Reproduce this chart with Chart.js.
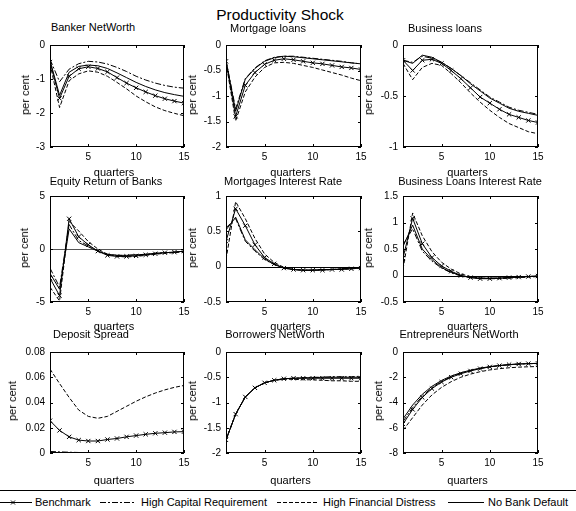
<!DOCTYPE html>
<html>
<head>
<meta charset="utf-8">
<script src="https://cdn.jsdelivr.net/npm/chart.js@4.4.1/dist/chart.umd.min.js"></script>
<style>
body { margin: 0; background: #fff; }
#fig { position: relative; width: 576px; height: 511px; overflow: hidden; font-family: "Liberation Sans", Arial, sans-serif; color: #000; }
#fig canvas { position: absolute; }
.lbl { position: absolute; white-space: nowrap; font-size: 11px; line-height: 12px; transform: translate(-50%, -50%); }
.ylab { position: absolute; white-space: nowrap; font-size: 11px; line-height: 12px; transform: translate(-50%, -50%) rotate(-90deg); }
#suptitle { font-size: 15.5px; line-height: 18px; font-weight: normal; }
#legend { position: absolute; left: -2px; top: 490px; width: 580px; height: 30px; border-top: 1px solid #000; }
.legtxt { position: absolute; top: 496px; font-size: 11px; line-height: 12px; white-space: nowrap; }
</style>
</head>
<body>
<div id="fig">
  <div id="legend"></div>
  <svg width="576" height="511" style="position:absolute;left:0;top:0">
    <g stroke="#000" stroke-width="1" fill="none">
      <line x1="0" y1="502.5" x2="32" y2="502.5"/>
      <path d="M11 500.5 L15 504.5 M15 500.5 L11 504.5"/>
      <line x1="100" y1="502.5" x2="136" y2="502.5" stroke-dasharray="6,2,2,2"/>
      <line x1="277" y1="502.5" x2="319" y2="502.5" stroke-dasharray="4,2"/>
      <line x1="448" y1="502.5" x2="484" y2="502.5"/>
    </g>
  </svg>
  <div class="legtxt" style="left:35px">Benchmark</div>
  <div class="legtxt" style="left:141px">High Capital Requirement</div>
  <div class="legtxt" style="left:323px">High Financial Distress</div>
  <div class="legtxt" style="left:488px">No Bank Default</div>
  <div id="suptitle" class="lbl" style="left:280px;top:15px">Productivity Shock</div>
</div>
<script>
const quarters = [1, 2, 3, 4, 5, 6, 7, 8, 9, 10, 11, 12, 13, 14, 15];
const xTicks = [5, 10, 15];
const seriesNames = ['Benchmark', 'High Capital Requirement', 'High Financial Distress', 'No Bank Default'];

// Banker NetWorth
const bankerBench = [-0.50, -1.57, -0.92, -0.70, -0.64, -0.69, -0.79, -0.96, -1.12, -1.26, -1.38, -1.49, -1.58, -1.65, -1.71];
const bankerCap = [-0.42, -1.08, -0.71, -0.55, -0.48, -0.50, -0.56, -0.66, -0.78, -0.92, -1.03, -1.12, -1.19, -1.24, -1.27];
const bankerDist = [-0.55, -1.84, -1.05, -0.85, -0.76, -0.80, -0.92, -1.10, -1.29, -1.50, -1.67, -1.82, -1.93, -2.01, -2.08];
const bankerNoDef = [-0.45, -1.48, -0.80, -0.63, -0.59, -0.61, -0.69, -0.82, -0.96, -1.10, -1.22, -1.32, -1.40, -1.46, -1.51];
const bankerTicks = [-3, -2, -1, 0];

// Mortgage loans
const mortBench = [-0.32, -1.40, -0.79, -0.54, -0.38, -0.30, -0.27, -0.29, -0.32, -0.35, -0.37, -0.40, -0.43, -0.45, -0.48];
const mortCap = [-0.30, -1.25, -0.66, -0.45, -0.31, -0.24, -0.22, -0.22, -0.24, -0.26, -0.28, -0.30, -0.32, -0.35, -0.37];
const mortDist = [-0.34, -1.49, -0.92, -0.63, -0.44, -0.35, -0.34, -0.36, -0.40, -0.44, -0.49, -0.54, -0.59, -0.65, -0.70];
const mortNoDef = [-0.30, -1.30, -0.67, -0.46, -0.32, -0.25, -0.22, -0.23, -0.25, -0.27, -0.29, -0.31, -0.33, -0.35, -0.37];
const mortTicks = [-2, -1.5, -1, -0.5, 0];

// Business loans
const busBench = [-0.15, -0.25, -0.15, -0.14, -0.18, -0.25, -0.33, -0.42, -0.51, -0.57, -0.63, -0.68, -0.71, -0.74, -0.76];
const busCap = [-0.15, -0.17, -0.11, -0.13, -0.17, -0.23, -0.30, -0.37, -0.44, -0.51, -0.56, -0.61, -0.64, -0.66, -0.68];
const busDist = [-0.18, -0.34, -0.22, -0.18, -0.20, -0.28, -0.37, -0.47, -0.56, -0.64, -0.71, -0.77, -0.81, -0.85, -0.87];
const busNoDef = [-0.15, -0.18, -0.10, -0.12, -0.17, -0.23, -0.30, -0.38, -0.45, -0.52, -0.57, -0.62, -0.65, -0.67, -0.69];
const busTicks = [-1, -0.5, 0];

// Equity Return of Banks
const eqBench = [-2.75, -4.4, 2.85, 1.15, 0.4, -0.2, -0.6, -0.7, -0.7, -0.65, -0.55, -0.45, -0.35, -0.3, -0.2];
const eqCap = [-1.8, -3.6, 2.3, 0.8, 0.3, -0.2, -0.5, -0.6, -0.6, -0.55, -0.5, -0.4, -0.35, -0.3, -0.2];
const eqDist = [-3.6, -4.9, 2.6, 1.7, 0.7, 0.0, -0.5, -0.7, -0.75, -0.7, -0.6, -0.5, -0.4, -0.35, -0.25];
const eqNoDef = [-2.3, -3.8, 1.9, 0.6, 0.2, -0.2, -0.5, -0.6, -0.6, -0.55, -0.5, -0.4, -0.35, -0.3, -0.2];
const eqTicks = [-5, 0, 5];

// Mortgages Interest Rate
const mirBench = [0.36, 0.82, 0.58, 0.31, 0.13, 0.04, -0.02, -0.04, -0.05, -0.05, -0.05, -0.04, -0.04, -0.03, -0.02];
const mirCap = [0.55, 0.68, 0.36, 0.22, 0.10, 0.03, -0.02, -0.04, -0.05, -0.05, -0.04, -0.04, -0.03, -0.02, -0.01];
const mirDist = [0.10, 0.92, 0.68, 0.40, 0.18, 0.06, -0.01, -0.04, -0.05, -0.05, -0.05, -0.04, -0.04, -0.03, -0.02];
const mirNoDef = [0.52, 0.70, 0.38, 0.24, 0.11, 0.03, -0.02, -0.04, -0.05, -0.05, -0.04, -0.04, -0.03, -0.02, -0.01];
const mirTicks = [-0.5, 0, 0.5, 1];

// Business Loans Interest Rate
const birBench = [0.33, 1.08, 0.60, 0.34, 0.18, 0.08, 0.0, -0.04, -0.06, -0.06, -0.05, -0.04, -0.03, -0.02, -0.01];
const birCap = [0.58, 0.88, 0.46, 0.27, 0.14, 0.05, -0.01, -0.04, -0.05, -0.05, -0.05, -0.04, -0.03, -0.02, -0.01];
const birDist = [0.12, 1.18, 0.75, 0.45, 0.25, 0.12, 0.03, -0.02, -0.05, -0.06, -0.06, -0.05, -0.04, -0.03, -0.02];
const birNoDef = [0.55, 0.95, 0.50, 0.30, 0.15, 0.06, 0.0, -0.04, -0.05, -0.05, -0.05, -0.04, -0.03, -0.02, -0.01];
const birTicks = [-0.5, 0, 0.5, 1, 1.5];

// Deposit Spread
const depBench = [0.0256, 0.0179, 0.0128, 0.0102, 0.0095, 0.0095, 0.0107, 0.0115, 0.0128, 0.0138, 0.0148, 0.0156, 0.0161, 0.0167, 0.0169];
const depCap = [0.0012, 0.0009, 0.0006, 0.0004, 0.0003, 0.0002, 0.0002, 0.0001, 0.0001, 0.0001, 0.0001, 0.0001, 0.0001, 0.0001, 0.0001];
const depDist = [0.0665, 0.055, 0.044, 0.034, 0.029, 0.0275, 0.029, 0.033, 0.037, 0.041, 0.0445, 0.0475, 0.050, 0.052, 0.0535];
const depNoDef = [0.0005, 0.0003, 0.0002, 0.0001, 0, 0, 0, 0, 0, 0, 0, 0, 0, 0, 0];
const depTicks = [0, 0.02, 0.04, 0.06, 0.08];

// Borrowers NetWorth
const borBench = [-1.74, -1.23, -0.89, -0.71, -0.61, -0.56, -0.53, -0.52, -0.52, -0.52, -0.52, -0.52, -0.52, -0.52, -0.52];
const borCap = [-1.74, -1.23, -0.89, -0.71, -0.61, -0.56, -0.53, -0.52, -0.51, -0.50, -0.50, -0.49, -0.49, -0.49, -0.48];
const borDist = [-1.74, -1.23, -0.89, -0.71, -0.61, -0.56, -0.54, -0.54, -0.55, -0.55, -0.56, -0.57, -0.57, -0.58, -0.58];
const borNoDef = [-1.74, -1.23, -0.89, -0.71, -0.61, -0.56, -0.53, -0.52, -0.51, -0.51, -0.50, -0.50, -0.50, -0.50, -0.50];
const borTicks = [-2, -1.5, -1, -0.5, 0];

// Entrepreneurs NetWorth
const entBench = [-5.7, -4.55, -3.6, -2.9, -2.38, -2.0, -1.72, -1.5, -1.32, -1.18, -1.08, -1.0, -0.95, -0.92, -0.9];
const entCap = [-5.5, -4.4, -3.5, -2.82, -2.32, -1.96, -1.68, -1.47, -1.3, -1.17, -1.08, -1.01, -0.96, -0.93, -0.91];
const entDist = [-6.2, -5.2, -4.2, -3.4, -2.8, -2.35, -2.0, -1.75, -1.56, -1.42, -1.32, -1.25, -1.2, -1.17, -1.15];
const entNoDef = [-5.3, -4.2, -3.35, -2.72, -2.25, -1.9, -1.64, -1.44, -1.28, -1.16, -1.07, -1.0, -0.95, -0.92, -0.9];
const entTicks = [-8, -6, -4, -2, 0];

// layout of the 3x3 grid (pixel boxes of the plot areas)
const panels = [
  {title: 'Banker NetWorth', series: [bankerBench, bankerCap, bankerDist, bankerNoDef], yTicks: bankerTicks,
   left: 50, top: 42, w: 134, h: 105, tx: 93, ty: 27, yl: 25, xl: 172},
  {title: 'Mortgage loans', series: [mortBench, mortCap, mortDist, mortNoDef], yTicks: mortTicks,
   left: 226, top: 42, w: 135, h: 105, tx: 268, ty: 28, yl: 192, xl: 172},
  {title: 'Business loans', series: [busBench, busCap, busDist, busNoDef], yTicks: busTicks,
   left: 403, top: 42, w: 135, h: 105, tx: 445, ty: 28, yl: 368, xl: 172},
  {title: 'Equity Return of Banks', series: [eqBench, eqCap, eqDist, eqNoDef], yTicks: eqTicks, zero: '#555',
   left: 50, top: 193, w: 134, h: 109, tx: 106, ty: 181, yl: 24, xl: 326},
  {title: 'Mortgages Interest Rate', series: [mirBench, mirCap, mirDist, mirNoDef], yTicks: mirTicks, zero: '#000',
   left: 226, top: 193, w: 135, h: 109, tx: 283, ty: 181, yl: 192, xl: 326},
  {title: 'Business Loans Interest Rate', series: [birBench, birCap, birDist, birNoDef], yTicks: birTicks, zero: '#000',
   left: 403, top: 193, w: 135, h: 109, tx: 470, ty: 181, yl: 368, xl: 326},
  {title: 'Deposit Spread', series: [depBench, depCap, depDist, depNoDef], yTicks: depTicks,
   left: 50, top: 349, w: 134, h: 104, tx: 91, ty: 334, yl: 12, xl: 480},
  {title: 'Borrowers NetWorth', series: [borBench, borCap, borDist, borNoDef], yTicks: borTicks,
   left: 226, top: 349, w: 135, h: 104, tx: 275, ty: 334, yl: 192, xl: 480},
  {title: 'Entrepreneurs NetWorth', series: [entBench, entCap, entDist, entNoDef], yTicks: entTicks,
   left: 403, top: 349, w: 135, h: 104, tx: 459, ty: 334, yl: 378, xl: 480}
];

const lineStyles = [
  {borderDash: [], pointStyle: 'crossRot', pointRadius: 3},
  {borderDash: [6, 2, 2, 2], pointStyle: false, pointRadius: 0},
  {borderDash: [4, 2], pointStyle: false, pointRadius: 0},
  {borderDash: [], pointStyle: false, pointRadius: 0}
];

Chart.defaults.font.family = '"Liberation Sans", Arial, sans-serif';
Chart.defaults.font.size = 10;
Chart.defaults.color = '#000';

// box, inward ticks on all sides, and optional zero line
const framePlugin = {
  id: 'frame',
  beforeDatasetsDraw(chart, args, opts) {
    if (!opts.zero) return;
    const {ctx, chartArea: a, scales: {y}} = chart;
    const py = Math.round(y.getPixelForValue(0)) + 0.5;
    ctx.save();
    ctx.strokeStyle = opts.zero;
    ctx.lineWidth = 1;
    ctx.beginPath();
    ctx.moveTo(a.left, py);
    ctx.lineTo(a.right, py);
    ctx.stroke();
    ctx.restore();
  },
  afterDatasetsDraw(chart) {
    const {ctx, chartArea: a, scales: {x, y}} = chart;
    ctx.save();
    ctx.strokeStyle = '#000';
    ctx.lineWidth = 1;
    ctx.strokeRect(a.left + 0.5, a.top + 0.5, a.width - 1, a.height - 1);
    ctx.beginPath();
    x.ticks.forEach(t => {
      const px = Math.round(x.getPixelForValue(t.value)) + 0.5;
      ctx.moveTo(px, a.bottom); ctx.lineTo(px, a.bottom - 3);
      ctx.moveTo(px, a.top); ctx.lineTo(px, a.top + 3);
    });
    y.ticks.forEach(t => {
      const py = Math.round(y.getPixelForValue(t.value)) + 0.5;
      ctx.moveTo(a.left, py); ctx.lineTo(a.left + 3, py);
      ctx.moveTo(a.right, py); ctx.lineTo(a.right - 3, py);
    });
    ctx.stroke();
    ctx.restore();
  }
};

const fig = document.getElementById('fig');
const padL = 45, padT = 8, padR = 10, padB = 20;

panels.forEach(p => {
  const canvas = document.createElement('canvas');
  canvas.width = p.w + padL + padR;
  canvas.height = p.h + padT + padB;
  canvas.style.left = (p.left - padL) + 'px';
  canvas.style.top = (p.top - padT) + 'px';
  fig.appendChild(canvas);

  const title = document.createElement('div');
  title.className = 'lbl';
  title.style.left = p.tx + 'px';
  title.style.top = p.ty + 'px';
  title.textContent = p.title;
  fig.appendChild(title);

  const xl = document.createElement('div');
  xl.className = 'lbl';
  xl.style.left = (p.left + p.w / 2 - 3) + 'px';
  xl.style.top = p.xl + 'px';
  xl.textContent = 'quarters';
  fig.appendChild(xl);

  const yl = document.createElement('div');
  yl.className = 'ylab';
  yl.style.left = p.yl + 'px';
  yl.style.top = (p.top + p.h / 2) + 'px';
  yl.textContent = 'per cent';
  fig.appendChild(yl);

  const yMin = p.yTicks[0], yMax = p.yTicks[p.yTicks.length - 1];

  new Chart(canvas, {
    type: 'line',
    data: {
      datasets: p.series.map((vals, i) => ({
        label: seriesNames[i],
        data: quarters.map((q, k) => ({x: q, y: vals[k]})),
        borderColor: '#000',
        backgroundColor: '#000',
        borderWidth: 1,
        borderDash: lineStyles[i].borderDash,
        pointStyle: lineStyles[i].pointStyle,
        pointRadius: lineStyles[i].pointRadius,
        pointBorderWidth: 1,
        pointBorderColor: '#000',
        tension: 0,
        fill: false
      }))
    },
    options: {
      responsive: false,
      animation: false,
      devicePixelRatio: 1,
      layout: {padding: {left: 0, top: padT, right: padR, bottom: 0}},
      plugins: {
        legend: {display: false},
        tooltip: {enabled: false},
        frame: {zero: p.zero}
      },
      scales: {
        x: {
          type: 'linear', min: 1, max: 15,
          grid: {display: false, drawTicks: false},
          border: {display: false},
          ticks: {padding: 4, maxRotation: 0, autoSkip: false, callback: v => String(v)},
          afterBuildTicks: s => { s.ticks = xTicks.map(v => ({value: v})); },
          afterFit: s => { s.height = padB; }
        },
        y: {
          type: 'linear', min: yMin, max: yMax,
          grid: {display: false, drawTicks: false},
          border: {display: false},
          ticks: {padding: 5, autoSkip: false, callback: v => String(v)},
          afterBuildTicks: s => { s.ticks = p.yTicks.map(v => ({value: v})); },
          afterFit: s => { s.width = padL; }
        }
      }
    },
    plugins: [framePlugin]
  });
});
</script>
</body>
</html>
